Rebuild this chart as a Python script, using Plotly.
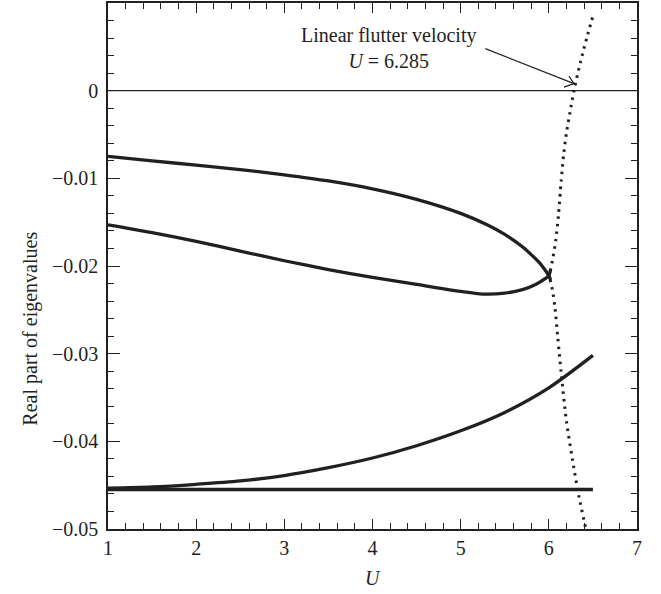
import plotly.graph_objects as go

# ---- data ----
# Mode A: starts at -0.0075, merges near U=6.0 then drops steeply (dotted)
u_a_solid = [1.0, 1.5, 2.0, 2.5, 3.0, 3.5, 4.0, 4.5, 5.0, 5.3, 5.5, 5.7, 5.8, 5.9, 5.96, 6.0, 6.02]
re_a_solid = [-0.0075, -0.0080, -0.0085, -0.0090, -0.0096, -0.0103, -0.0112,
              -0.0124, -0.0140, -0.0153, -0.0164, -0.0178, -0.0187, -0.0197,
              -0.0205, -0.0211, -0.0216]
u_a_dot = [5.98, 6.0, 6.04, 6.07, 6.1, 6.14, 6.2, 6.28, 6.34, 6.42]
re_a_dot = [-0.0208, -0.0211, -0.0227, -0.0248, -0.0280, -0.0322, -0.0377, -0.0428, -0.0462, -0.0500]

# Mode B: starts at -0.015, minimum near U=5.3, becomes unstable (dotted)
u_b_solid = [1.0, 1.5, 2.0, 2.5, 3.0, 3.5, 4.0, 4.5, 5.0, 5.25, 5.5, 5.7, 5.85, 5.95, 6.0, 6.02]
re_b_solid = [-0.0153, -0.0162, -0.0172, -0.0183, -0.0194, -0.0204, -0.0213,
              -0.0221, -0.0229, -0.0232, -0.0231, -0.0227, -0.0221, -0.0215, -0.0211, -0.0204]
u_b_dot = [5.98, 6.0, 6.04, 6.08, 6.11, 6.14, 6.17, 6.2, 6.24, 6.285, 6.36, 6.43, 6.5]
re_b_dot = [-0.0213, -0.0211, -0.0194, -0.0170, -0.0141, -0.0103, -0.0071, -0.0048,
            -0.0025, 0.0, 0.0033, 0.0060, 0.0085]

# Mode C: rising from -0.0453 to -0.0302
u_c = [1.0, 1.5, 2.0, 2.5, 3.0, 3.5, 4.0, 4.5, 5.0, 5.5, 6.0, 6.5]
re_c = [-0.04535, -0.0452, -0.0449, -0.04452, -0.0439, -0.0430, -0.0419,
        -0.0405, -0.0388, -0.0367, -0.0339, -0.0302]

# Mode D: constant
u_d = [1.0, 6.5]
re_d = [-0.0455, -0.0455]

flutter_u = 6.285
x_ticks = [1, 2, 3, 4, 5, 6, 7]
y_ticks = [-0.05, -0.04, -0.03, -0.02, -0.01, 0]
y_tick_text = ["\u22120.05", "\u22120.04", "\u22120.03", "\u22120.02", "\u22120.01", "0"]

INK = "#231f20"
FONT = "Liberation Serif"
FS = 20

fig = go.Figure()

# zero line
fig.add_trace(go.Scatter(x=[1, 7], y=[0, 0], mode="lines",
                         line=dict(color=INK, width=1.3), hoverinfo="skip"))

solid = dict(color=INK, width=3.3, shape="spline", smoothing=0.8)
dotted = dict(color=INK, width=3, dash="2.5px,5px", shape="spline", smoothing=0.8)

fig.add_trace(go.Scatter(x=u_d, y=re_d, mode="lines", line=dict(color=INK, width=3.6)))
fig.add_trace(go.Scatter(x=u_c, y=re_c, mode="lines", line=solid))
fig.add_trace(go.Scatter(x=u_a_dot, y=re_a_dot, mode="lines", line=dotted))
fig.add_trace(go.Scatter(x=u_b_dot, y=re_b_dot, mode="lines", line=dotted))
fig.add_trace(go.Scatter(x=u_a_solid, y=re_a_solid, mode="lines", line=solid))
fig.add_trace(go.Scatter(x=u_b_solid, y=re_b_solid, mode="lines", line=solid))

# annotation text
fig.add_annotation(x=4.18, y=0.0049, xref="x", yref="y",
                   text="Linear flutter velocity<br><i>U</i> = 6.285",
                   showarrow=False, font=dict(family=FONT, size=FS, color=INK),
                   align="center", yanchor="middle")
# arrow shaft
fig.add_shape(type="line", xref="x", yref="y", x0=5.28, y0=0.0048,
              x1=flutter_u, y1=0.0008, line=dict(color=INK, width=1.2))
# open arrow head
fig.add_shape(type="path", xref="x", yref="y", xsizemode="pixel", ysizemode="pixel",
              xanchor=flutter_u, yanchor=0.0008,
              path="M -10,-3.5 L 0,0 L -5,7.5", line=dict(color=INK, width=1.2))

# axis labels
fig.add_annotation(x=-0.172, y=0.38, xref="paper", yref="paper",
                   text="Real part of eigenvalues", textangle=-90, showarrow=False,
                   font=dict(family=FONT, size=FS, color=INK))
fig.add_annotation(x=0.5, y=-0.118, xref="paper", yref="paper",
                   text="<i>U</i>", showarrow=False,
                   font=dict(family=FONT, size=FS, color=INK))

axis_common = dict(showgrid=False, zeroline=False, showline=True, linecolor=INK,
                   linewidth=1.5, mirror="ticks", ticks="inside", tickcolor=INK,
                   tickwidth=1.3, tickfont=dict(family=FONT, size=FS, color=INK))

fig.update_xaxes(range=[1, 7], tickvals=x_ticks, ticklen=10,
                 minor=dict(dtick=0.2, ticks="inside", ticklen=6, tickcolor=INK, tickwidth=1.2),
                 **axis_common)
fig.update_yaxes(range=[-0.05, 0.01], tickvals=y_ticks, ticktext=y_tick_text, ticklen=12,
                 ticklabelstandoff=4,
                 minor=dict(dtick=0.002, ticks="inside", ticklen=6, tickcolor=INK, tickwidth=1.2),
                 **axis_common)

fig.update_layout(width=661, height=594, showlegend=False,
                  margin=dict(l=108, r=24, t=1, b=65),
                  plot_bgcolor="white", paper_bgcolor="white")

fig.write_html("out.html")
